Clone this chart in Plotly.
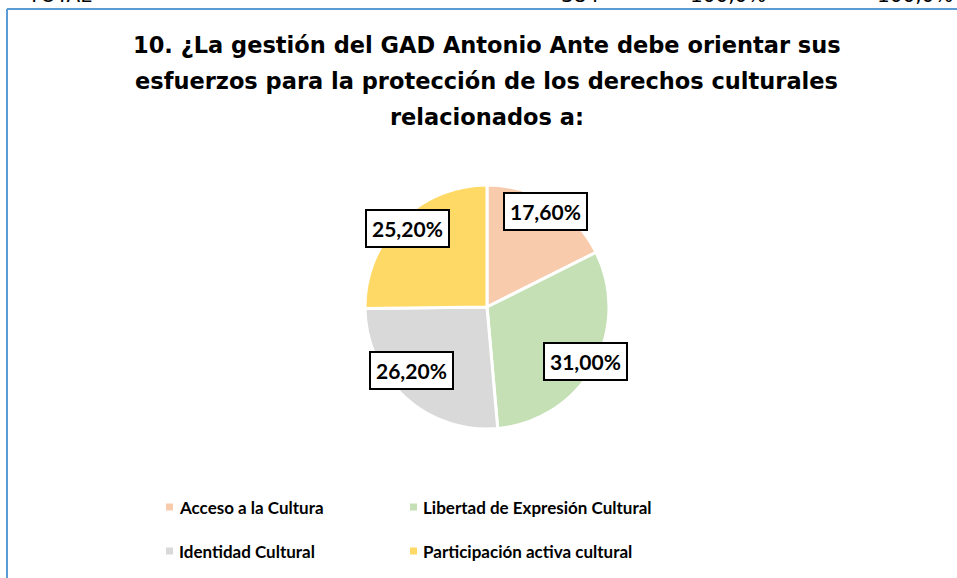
import math
import plotly.graph_objects as go

categories = ["Acceso a la Cultura", "Libertad de Expresión Cultural",
              "Identidad Cultural", "Participación activa cultural"]
values = [17.6, 31.0, 26.2, 25.2]
labels_txt = ["17,60%", "31,00%", "26,20%", "25,20%"]
colors = ["#F8CBAD", "#C5E0B4", "#D9D9D9", "#FFD966"]
table_row = ["TOTAL", "384", "100,0%", "100,0%"]
title_lines = ["10. ¿La gestión del GAD Antonio Ante debe orientar sus",
               "esfuerzos para la protección de los derechos culturales",
               "relacionados a:"]

W, H = 957, 578
cx, cy, R = 487, 307, 122  # pie centre / radius in pixels


def px_x(x):
    return x / W


def px_y(y):
    return 1 - y / H


fig = go.Figure()
fig.add_trace(go.Pie(
    labels=categories, values=values, sort=False, direction="clockwise",
    rotation=0, marker=dict(colors=colors, line=dict(color="white", width=3)),
    textinfo="none", hoverinfo="label+percent", showlegend=False,
    domain=dict(x=[px_x(cx - R), px_x(cx + R)], y=[px_y(cy + R), px_y(cy - R)]),
))

# data labels in boxes, positioned from slice mid-angles
total = sum(values)
cum = 0
ann = []
for v, t in zip(values, labels_txt):
    mid = (cum + v / 2) / total * 2 * math.pi
    cum += v
    r = 0.92 * R
    lx = cx + r * math.sin(mid)
    ly = cy - r * math.cos(mid)
    ann.append(dict(x=px_x(lx), y=px_y(ly), xref="paper", yref="paper", text="<b>" + t + "</b>",
                    showarrow=False, font=dict(family="Lato", size=21, color="black"),
                    bgcolor="white", bordercolor="black", borderwidth=2, borderpad=5))

# title, one annotation per line
for i, line in enumerate(title_lines):
    ann.append(dict(x=px_x(487), y=px_y(45 + 36 * i), xref="paper", yref="paper",
                    text="<b>" + line + "</b>", showarrow=False,
                    font=dict(family="DejaVu Sans", size=22.5, color="black"),
                    xanchor="center", yanchor="middle"))

# cut-off table row above chart
for t, xpx in zip(table_row, [60, 580, 728, 915]):
    ann.append(dict(x=px_x(xpx), y=px_y(9), xref="paper", yref="paper", text=t,
                    showarrow=False, xanchor="center", yanchor="bottom",
                    font=dict(family="DejaVu Sans", size=20, color="black")))

# manual legend
shapes = []
leg_pos = [(166, 507), (410, 507), (166, 551), (410, 551)]
for (lx, ly), c, name in zip(leg_pos, colors, categories):
    shapes.append(dict(type="rect", xref="paper", yref="paper",
                       x0=px_x(lx), x1=px_x(lx + 7), y0=px_y(ly + 3.5), y1=px_y(ly - 3.5),
                       fillcolor=c, line=dict(width=0)))
    ann.append(dict(x=px_x(lx + 11), y=px_y(ly), xref="paper", yref="paper",
                    text="<b>" + name + "</b>", showarrow=False, xanchor="left", yanchor="middle",
                    font=dict(family="Lato", size=17, color="black")))

# chart border
shapes.append(dict(type="line", xref="paper", yref="paper", x0=px_x(7), x1=1, y0=px_y(9), y1=px_y(9),
                   line=dict(color="#5B9BD5", width=2)))
shapes.append(dict(type="line", xref="paper", yref="paper", x0=px_x(7), x1=px_x(7), y0=0, y1=px_y(9),
                   line=dict(color="#5B9BD5", width=2)))

fig.update_layout(width=W, height=H, margin=dict(l=0, r=0, t=0, b=0),
                  paper_bgcolor="white", plot_bgcolor="white",
                  annotations=ann, shapes=shapes)
fig.write_html("out.html", config={"displayModeBar": False},
               post_script="document.body.style.margin='0';")
